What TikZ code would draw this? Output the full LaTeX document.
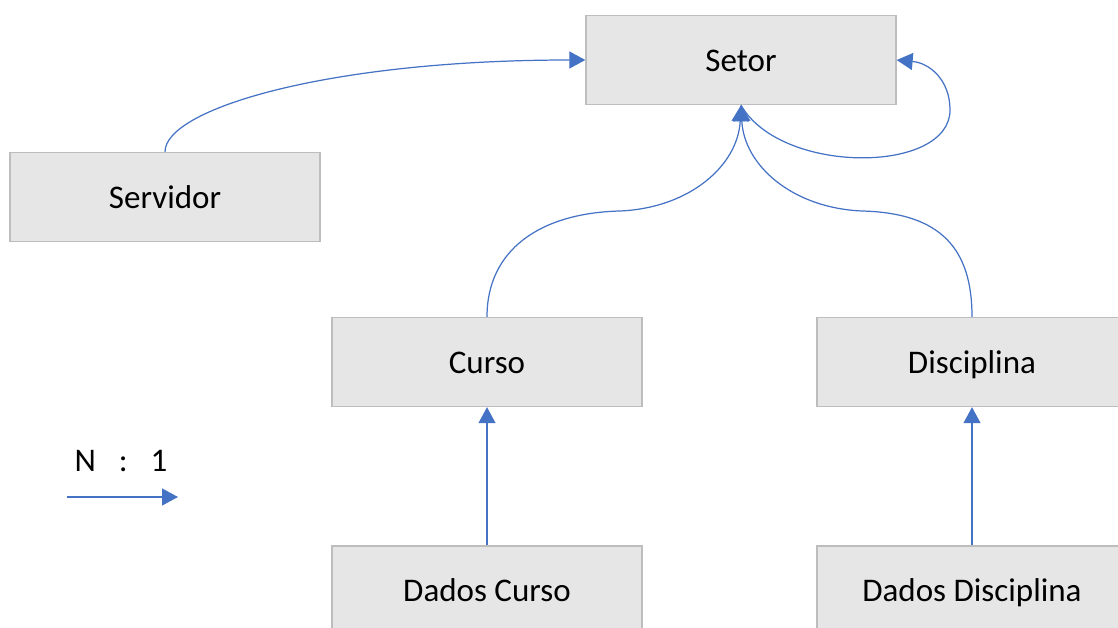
\documentclass[tikz,border=0pt]{standalone}
\usepackage{fontspec}
\setmainfont{Carlito}
\usepackage{tikz}
\usetikzlibrary{positioning}
\usetikzlibrary{arrows.meta}
\definecolor{boxfill}{HTML}{E6E6E6}
\definecolor{boxline}{HTML}{BDBDBD}
\definecolor{linkblue}{HTML}{4472C4}

\begin{document}
\begin{tikzpicture}[x=0.02cm,y=-0.02cm,
    entity/.style={draw=boxline,line width=0.8pt,fill=boxfill,
      minimum width=\W,minimum height=\H,inner sep=0pt,
      text height=13pt,text depth=0pt,
      font=\fontsize{18.8}{22}\selectfont},
    link/.style={draw=linkblue,line width=0.7pt,
      -{Triangle[width=0.34cm,length=0.32cm,fill=linkblue]}}]
  % Parameters
  \def\W{6.2cm}      % width of each box
  \def\H{1.78cm}     % height of each box
  \def\gap{2.76cm}   % vertical gap above the data boxes

  \useasboundingbox (0,0) rectangle (1118,628);

  % Entities
  \node[entity] (setor)    at (741,60)  {Setor};
  \node[entity] (servidor) at (165,197) {Servidor};
  \node[entity] (curso)    at (487,362) {Curso};
  \node[entity] (disc)     at (972,362) {Disciplina};
  \node[entity, below=\gap of curso] (dcurso) {Dados Curso};
  \node[entity, below=\gap of disc]  (ddisc)  {Dados Disciplina};

  % Bends of the curved links
  \coordinate (cbend) at (620,211);
  \coordinate (dbend) at (862,211);
  \coordinate (loop)  at (950,110);

  % Links (N : 1)
  \draw[link] (servidor.north) .. controls +(0,-43) and +(-257,0) .. (setor.west);
  \draw[link] (curso.north) .. controls +(0,-67) and +(-80,2) .. (cbend)
              .. controls +(70,-3) and +(-3,60) .. (setor.south);
  \draw[link] (disc.north) .. controls +(0,-67) and +(80,2) .. (dbend)
              .. controls +(-70,-3) and +(3,60) .. (setor.south);
  \draw[link] (setor.south) .. controls +(40,70) and +(0,64) .. (loop)
              .. controls +(0,-30) and +(33,3) .. (setor.east);
  \draw[link] (dcurso.north) -- (curso.south);
  \draw[link] (ddisc.north) -- (disc.south);

  % Legend
  \node[font=\fontsize{18.8}{22}\selectfont] (ratio) at (121,461)
    {N\hspace{13pt}:\hspace{13pt}1};
  \coordinate (la) at (67,497);
  \coordinate (lb) at (178,497);
  \draw[link] (la) -- (lb);

\end{tikzpicture}
\end{document}
